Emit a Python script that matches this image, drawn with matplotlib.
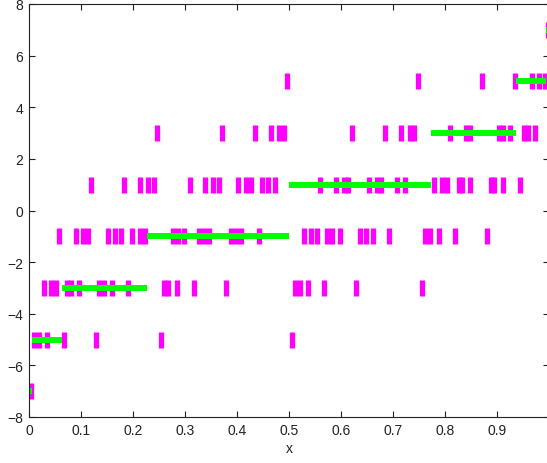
import matplotlib
matplotlib.use("Agg")
import matplotlib.pyplot as plt

# magenta sample marks, grouped by level
levels = [-7, -5, -3, -1, 1, 3, 5, 7]
x_m7 = [0.004]
x_m5 = [0.009, 0.019, 0.034, 0.067, 0.129, 0.253, 0.505]
x_m3 = [0.028, 0.042, 0.052, 0.073, 0.080, 0.096, 0.135, 0.144, 0.160, 0.190,
        0.260, 0.267, 0.284, 0.317, 0.379, 0.512, 0.522, 0.536, 0.567, 0.629,
        0.755]
x_m1 = [0.058, 0.090, 0.104, 0.113, 0.152, 0.166, 0.176, 0.199, 0.213, 0.224,
        0.276, 0.287, 0.298, 0.327, 0.337, 0.346, 0.389, 0.398, 0.408, 0.442,
        0.529, 0.542, 0.553, 0.574, 0.583, 0.599, 0.637, 0.648, 0.662, 0.693,
        0.762, 0.772, 0.788, 0.819, 0.881]
x_p1 = [0.120, 0.183, 0.214, 0.229, 0.240, 0.309, 0.338, 0.354, 0.365, 0.402,
        0.417, 0.427, 0.449, 0.460, 0.473, 0.559, 0.590, 0.606, 0.614, 0.653,
        0.669, 0.677, 0.708, 0.723, 0.779, 0.794, 0.804, 0.827, 0.833, 0.849,
        0.888, 0.895, 0.912, 0.944]
x_p3 = [0.247, 0.371, 0.434, 0.466, 0.480, 0.490, 0.622, 0.685, 0.715, 0.732,
        0.741, 0.810, 0.840, 0.848, 0.903, 0.912, 0.925, 0.951, 0.960, 0.974]
x_p5 = [0.497, 0.748, 0.872, 0.935, 0.968, 0.981, 0.993]
x_p7 = [0.998]
samples = [x_m7, x_m5, x_m3, x_m1, x_p1, x_p3, x_p5, x_p7]

# green step function: level k holds between edges[k] and edges[k+1]
edges = [0.0, 0.006, 0.064, 0.227, 0.5, 0.773, 0.936, 0.994, 1.0]

x_ticks = [0, 0.1, 0.2, 0.3, 0.4, 0.5, 0.6, 0.7, 0.8, 0.9, 1.0]
x_labels = ["0", "0.1", "0.2", "0.3", "0.4", "0.5", "0.6", "0.7", "0.8",
            "0.9", ""]  # the "1" falls off the cropped right edge

plt.rcParams["font.family"] = ["Liberation Sans", "DejaVu Sans"]

fig = plt.figure(figsize=(5.47, 4.64), dpi=100)
ax = fig.add_axes([29 / 547, 1 - 418 / 464, 520 / 547, 413 / 464])

for lvl, xs in zip(levels, samples):
    ax.plot(xs, [lvl] * len(xs), linestyle="none", marker="|",
            markersize=11.5, markeredgewidth=3.8, color="#ff00ff")

for k, lvl in enumerate(levels):
    ax.plot([edges[k], edges[k + 1]], [lvl, lvl], color="#00ff00",
            linewidth=4.3, solid_capstyle="butt")

ax.set_xlim(0, 1)
ax.set_ylim(-8, 8)
ax.set_xticks(x_ticks)
ax.set_xticklabels(x_labels)
ax.set_yticks(range(-8, 9, 2))
ax.tick_params(direction="in", top=True, right=True, length=4, width=0.8,
               labelsize=10, colors="#222222", pad=4)
for s in ax.spines.values():
    s.set_color("#222222")
    s.set_linewidth(0.8)
ax.set_xlabel("x", fontsize=10, color="#222222", labelpad=3)

fig.savefig("out.png", dpi=100)
